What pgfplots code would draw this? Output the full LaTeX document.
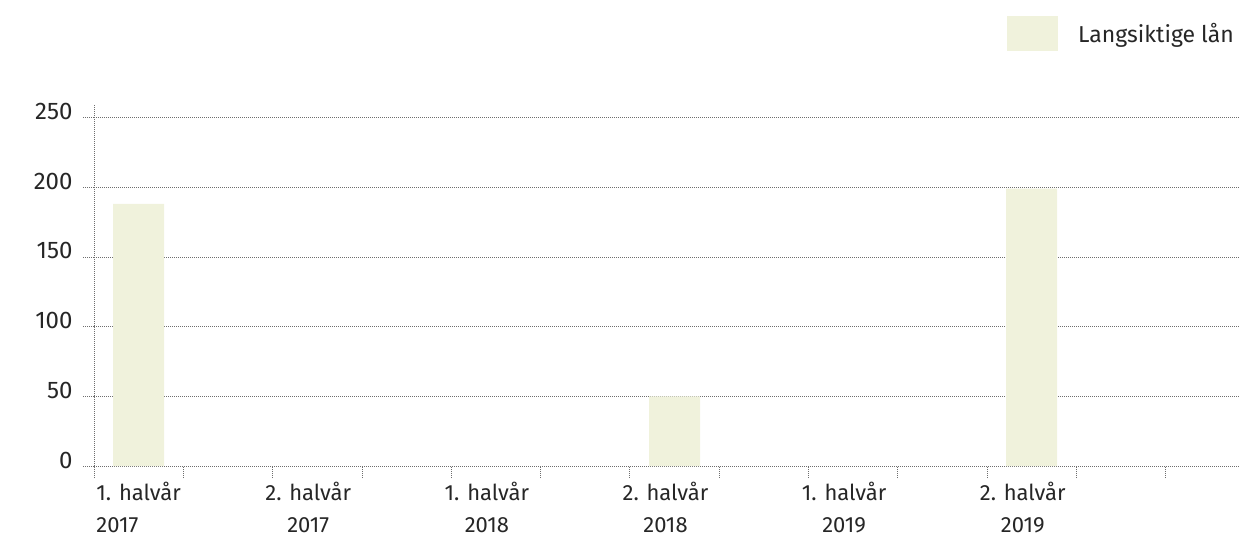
\documentclass[border=0pt]{standalone}
\usepackage{pgfplots}
\pgfplotsset{compat=1.18}
\usepackage{fontspec}
\setmainfont{Fira Sans}
\definecolor{barcol}{HTML}{F0F2DC}
\definecolor{txt}{HTML}{262626}
\definecolor{gridc}{HTML}{6E6E6E}
\begin{document}
\begin{tikzpicture}
\useasboundingbox (0,0) rectangle (1240bp,538bp);
\begin{axis}[
  at={(94bp,72bp)}, anchor=south west,
  scale only axis, width=1161bp, height=361bp,
  xmin=0, xmax=13, ymin=0, ymax=259,
  axis x line*=bottom, axis y line*=left,
  axis line style={-, gridc, line width=0.8bp, dash pattern=on 1bp off 1bp},
  ytick={0,50,...,250},
  ymajorgrids,
  major grid style={gridc, line width=0.8bp, dash pattern=on 1bp off 1bp},
  tick align=outside,
  major tick length=11bp,
  tick style={gridc, line width=0.8bp, dash pattern=on 1bp off 1bp},
  xtick={0.5,2.5,4.5,6.5,8.5,10.5},
  xticklabels={{\hspace*{18bp}1. halvår\\\hspace*{18bp}\rlap{2017}\hphantom{1. halvår}},{2. halvår\\2017},{1. halvår\\2018},{2. halvår\\2018},{1. halvår\\2019},{2. halvår\\2019}},
  minor xtick={0,1,...,13},
  major x tick style={draw=none},
  minor tick length=12bp,
  minor tick style={gridc, line width=0.8bp, dash pattern=on 1bp off 1bp},
  xticklabel style={align=center, font=\fontsize{22bp}{32bp}\selectfont, text=txt, yshift=-2bp, xshift=-9bp},
  yticklabel style={font=\fontsize{24bp}{28bp}\selectfont, text=txt, xshift=-7bp, yshift=6bp},
  /pgf/number format/assume math mode=true,
  legend style={draw=none, fill=none, at={(0.7864,1.199)}, anchor=west, inner sep=0pt, column sep=20bp,
    font=\fontsize{23bp}{27bp}\selectfont, text=txt, nodes={inner sep=0pt}},
  legend cell align=left,
  legend image code/.code={\fill[barcol] (0bp,-17.5bp) rectangle (51bp,17.5bp);},
  clip=false,
]
\addplot[ybar, bar width=51bp, fill=barcol, draw=none] coordinates {(0.5,188) (6.5,50) (10.5,199)};
\addlegendentry{Langsiktige lån}
\end{axis}
\end{tikzpicture}
\end{document}
